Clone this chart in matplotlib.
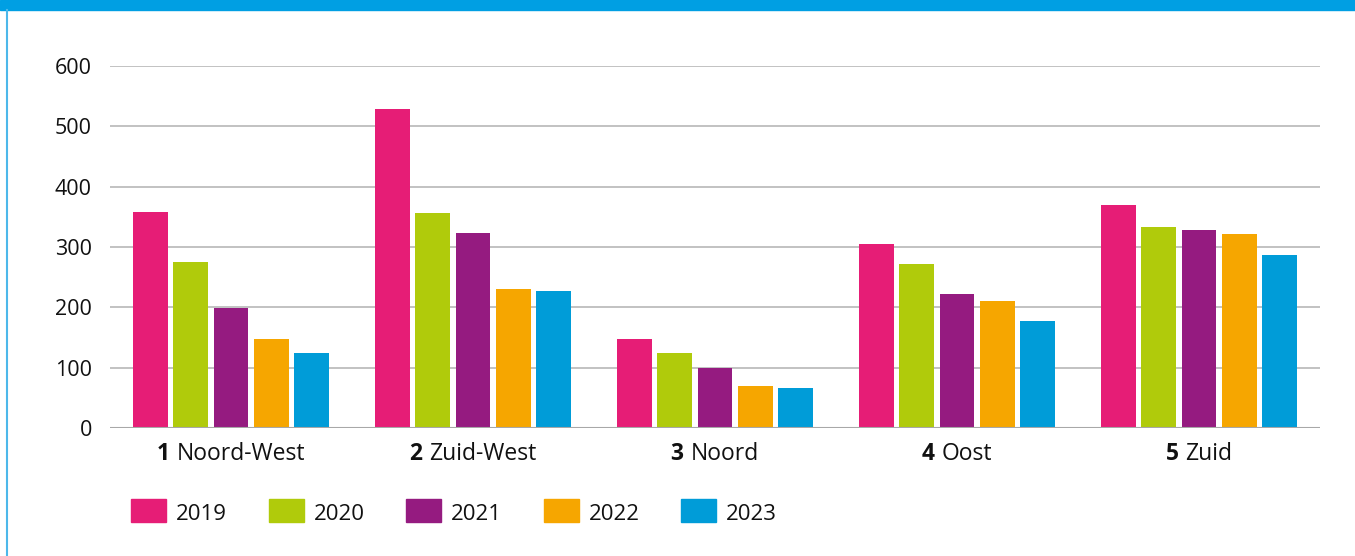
import matplotlib.pyplot as plt
import numpy as np
from matplotlib.patches import Rectangle
from matplotlib.lines import Line2D

regions_num = ["1", "2", "3", "4", "5"]
regions = ["Noord-West", "Zuid-West", "Noord", "Oost", "Zuid"]
years = ["2019", "2020", "2021", "2022", "2023"]

v2019 = [358, 529, 148, 305, 370]
v2020 = [275, 356, 124, 272, 333]
v2021 = [199, 323, 99, 222, 328]
v2022 = [148, 230, 70, 210, 322]
v2023 = [124, 227, 66, 177, 287]

colors = ["#E61D76", "#B0CB0B", "#951B80", "#F6A600", "#009CD8"]
yticks = [0, 100, 200, 300, 400, 500, 600]

W, H = 1355, 556
plt.rcParams["font.family"] = ["Open Sans", "DejaVu Sans"]

fig = plt.figure(figsize=(W / 100, H / 100), dpi=100)
ax = fig.add_axes([110 / W, 1 - 428 / H, 1210 / W, 362 / H])

x = np.arange(len(regions))
step = 0.167
width = 0.144
series = [v2019, v2020, v2021, v2022, v2023]
for i, (vals, col) in enumerate(zip(series, colors)):
    ax.bar(x + (i - 2) * step, vals, width=width, color=col, zorder=3)

ax.set_xlim(-0.5, 4.5)
ax.set_ylim(0, 600)
ax.set_yticks(yticks)
ax.set_yticklabels([str(t) for t in yticks], fontsize=15.5, color="#111111")
for lbl in ax.get_yticklabels():
    lbl.set_verticalalignment("center_baseline")
ax.tick_params(axis="y", length=0, pad=13)
ax.tick_params(axis="x", length=0)
ax.set_xticks([])
ax.grid(axis="y", color="#B8B8B8", linewidth=1.2, zorder=0)
for s in ax.spines.values():
    s.set_visible(False)
ax.axhline(0, color="#A8A8A8", linewidth=1.5, zorder=4)

# category labels with bold number
for xi, num, name in zip(x, regions_num, regions):
    ax.annotate(num + " ", xy=(xi, 0), xytext=(0, -19), textcoords="offset points",
                ha="right", va="center", fontsize=16.5, fontweight="bold", color="#111111")
    ax.annotate(name, xy=(xi, 0), xytext=(0, -19), textcoords="offset points",
                ha="left", va="center", fontsize=16.5, color="#111111")

# centre each label pair as a whole
fig.canvas.draw()
renderer = fig.canvas.get_renderer()
texts = ax.texts
for k in range(0, len(texts), 2):
    t_num, t_name = texts[k], texts[k + 1]
    wn = t_num.get_window_extent(renderer).width
    wt = t_name.get_window_extent(renderer).width
    shift = (wn - wt) / 2 * 72 / fig.dpi
    for t in (t_num, t_name):
        ox, oy = t.xyann
        t.xyann = (ox + shift, oy)

# legend
for i, (yr, col) in enumerate(zip(years, colors)):
    x0 = 131 + i * 137.5
    fig.patches.append(Rectangle((x0 / W, 1 - 522 / H), 35 / W, 23 / H,
                                 transform=fig.transFigure, color=col, figure=fig))
    fig.text((x0 + 45) / W, 1 - 514 / H, yr, fontsize=16, va="center", ha="left",
             color="#111111")

# frame decorations
fig.patches.append(Rectangle((0, 1 - 10 / H), 1, 10 / H, transform=fig.transFigure,
                             color="#009FE3", figure=fig))
fig.lines.append(Line2D([7 / W, 7 / W], [0, 1 - 10 / H], transform=fig.transFigure,
                        color="#4DB8EA", linewidth=1.5, figure=fig))

fig.savefig("out.png", dpi=100)
